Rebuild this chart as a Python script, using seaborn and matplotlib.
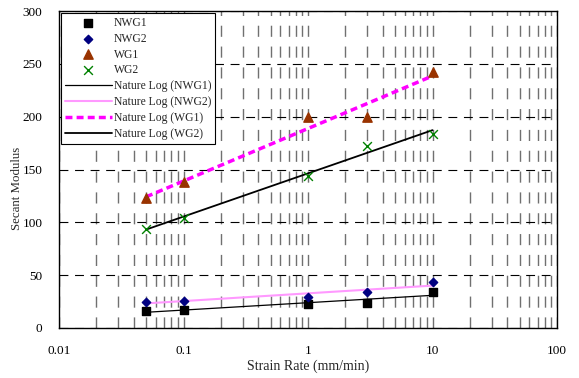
import numpy as np
import pandas as pd
import matplotlib
matplotlib.use("Agg")
import matplotlib.pyplot as plt
import seaborn as sns
from matplotlib.ticker import LogLocator, FixedLocator, NullFormatter

sns.set_theme(style="white")
plt.rcParams['font.family'] = ['Liberation Serif', 'DejaVu Serif']
plt.rcParams['font.size'] = 8

strain_rate = [0.05, 0.1, 1, 3, 10]
nwg1 = [16, 17, 23, 24, 34]
nwg2 = [25, 26, 29, 34, 44]
wg1 = [123, 138, 200, 200, 242]
wg2 = [94, 104, 144, 172, 184]
x_ticks = [0.01, 0.1, 1, 10, 100]
x_tick_labels = ["0.01", "0.1", "1", "10", "100"]
y_ticks = [0, 50, 100, 150, 200, 250, 300]

df = pd.DataFrame({"x": strain_rate, "NWG1": nwg1, "NWG2": nwg2, "WG1": wg1, "WG2": wg2})

fig = plt.figure(figsize=(5.79, 3.78), dpi=100)
ax = fig.add_axes([59/579, 50/378, 498/579, 317/378])
ax.set_xscale("log")
ax.set_xlim(0.01, 100)
ax.set_ylim(0, 300)

# grid
ax.xaxis.set_major_locator(FixedLocator(x_ticks))
ax.xaxis.set_minor_locator(LogLocator(base=10, subs=np.arange(2, 10)))
ax.xaxis.set_minor_formatter(NullFormatter())
ax.set_xticks(x_ticks)
ax.set_xticklabels(x_tick_labels)
ax.set_yticks(y_ticks)
ax.grid(True, which="both", axis="x", color="#707070", linestyle=(0, (8, 7)), linewidth=1.0)
ax.grid(True, which="major", axis="y", color="black", linestyle=(0, (8, 6)), linewidth=0.8)
ax.set_axisbelow(True)

# trend lines (natural log fits)
lx = np.log(np.array(strain_rate))
xx = np.array([strain_rate[0], strain_rate[-1]])
styles = {
    "NWG1": dict(color="black", lw=0.9, ls="-"),
    "NWG2": dict(color="#FF99FF", lw=1.5, ls="-"),
    "WG1": dict(color="#FF00FF", lw=2.5, ls=(0, (2.0, 1.2))),
    "WG2": dict(color="black", lw=1.3, ls="-"),
}
for name in ["NWG1", "NWG2", "WG1", "WG2"]:
    a, b = np.polyfit(lx, df[name].values, 1)
    fit = pd.DataFrame({"x": xx, "y": a*np.log(xx) + b})
    st = styles[name]
    sns.lineplot(data=fit, x="x", y="y", ax=ax, color=st["color"], linewidth=st["lw"],
                 linestyle=st["ls"], label=f"Nature Log ({name})", zorder=3)

markers = {
    "NWG1": dict(marker="s", color="black", s=28),
    "NWG2": dict(marker="D", color="#000080", s=18),
    "WG1": dict(marker="^", color="#993300", s=45),
    "WG2": dict(marker="x", color="#008000", s=40),
}
for name in ["NWG1", "NWG2", "WG1", "WG2"]:
    m = markers[name]
    sns.scatterplot(data=df, x="x", y=name, ax=ax, marker=m["marker"], color=m["color"],
                    s=m["s"], edgecolor=m["color"] if m["marker"] != "x" else None,
                    linewidth=1.0, label=name, zorder=4)

handles, labels = ax.get_legend_handles_labels()
order = ["NWG1", "NWG2", "WG1", "WG2", "Nature Log (NWG1)", "Nature Log (NWG2)",
         "Nature Log (WG1)", "Nature Log (WG2)"]
hmap = dict(zip(labels, handles))
leg = ax.legend([hmap[k] for k in order], order, loc="upper left", fontsize=8.4,
                frameon=True, fancybox=False, edgecolor="black", framealpha=1,
                borderaxespad=0.15, labelspacing=0.33, handlelength=4.0, handletextpad=0.2,
                borderpad=0.35)
leg.get_frame().set_linewidth(0.8)

ax.set_xlabel("Strain Rate (mm/min)", fontsize=10, labelpad=2)
ax.set_ylabel("Secant Modulus", fontsize=9.3)
ax.yaxis.set_label_coords(-0.072, 0.44)
ax.tick_params(axis="x", which="both", length=0, labelsize=9.5, colors="black", pad=12)
ax.tick_params(axis="y", which="both", length=0, labelsize=9.5, colors="black", pad=12)
for sp in ax.spines.values():
    sp.set_color("black")
    sp.set_linewidth(1.0)

fig.savefig("out.png", dpi=100)
